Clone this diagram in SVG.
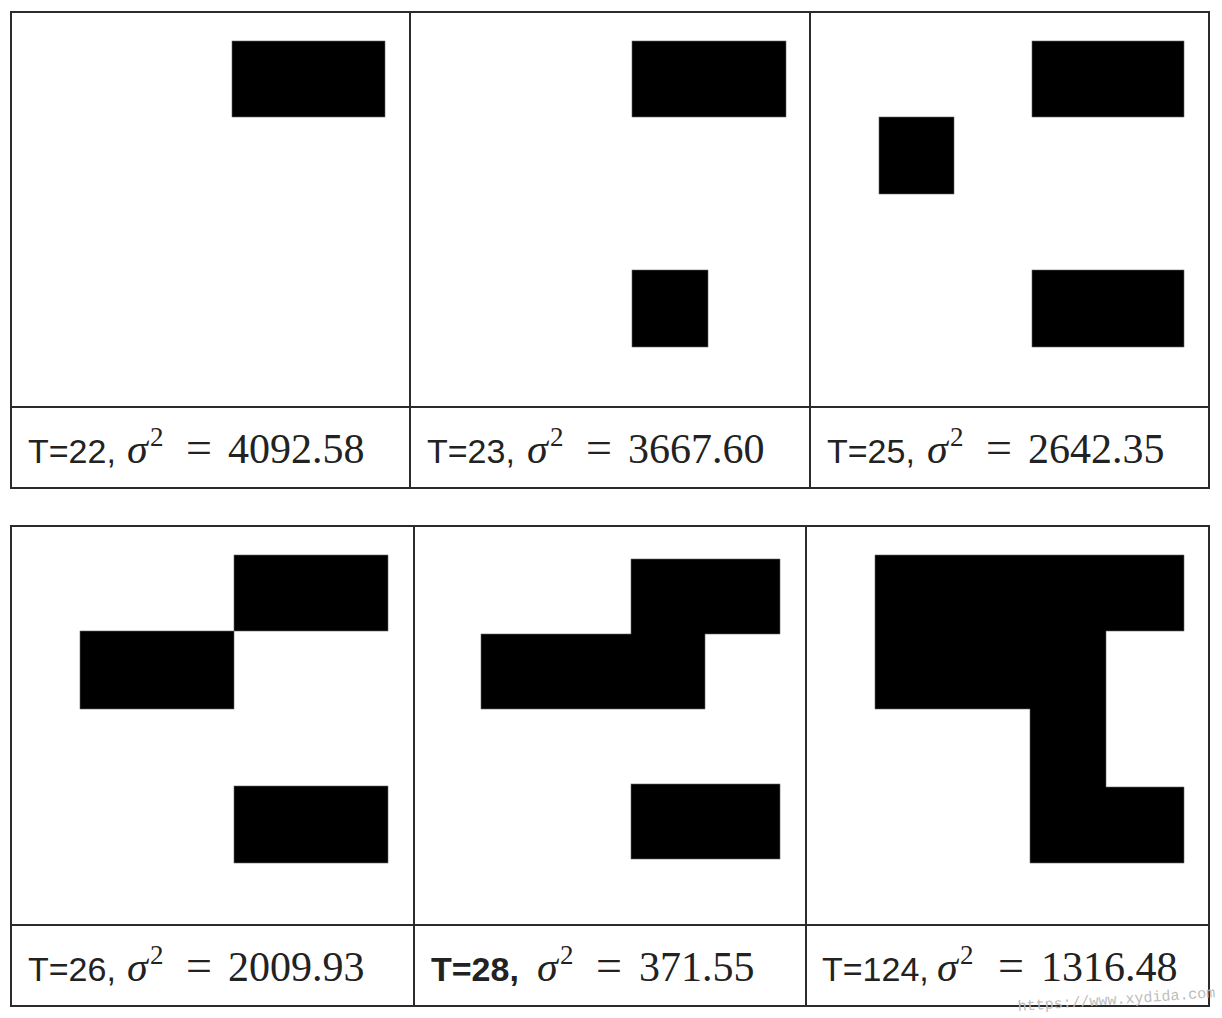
<svg xmlns="http://www.w3.org/2000/svg" width="1222" height="1018" viewBox="0 0 1222 1018">
<style>
.grid{fill:none;stroke:#2b2b2b;stroke-width:2}
.blk{fill:#000;stroke:#666;stroke-width:0.6}
.sans{font-family:"Liberation Sans","Helvetica",Arial,sans-serif;font-size:34px;fill:#222}
.bold{font-weight:bold}
.ser{font-family:"Liberation Serif","Times New Roman",serif;font-size:42px;fill:#222}
.eq{font-family:"Liberation Serif","Times New Roman",serif;font-size:46px;fill:#222}
.sig{font-family:"Liberation Serif","Times New Roman",serif;font-style:italic;font-size:42px;fill:#222}
.sup{font-family:"Liberation Serif","Times New Roman",serif;font-size:27px;fill:#222}
.wm{font-family:"Liberation Mono","DejaVu Sans Mono",monospace;font-size:15px;fill:#bdbdbd}
</style>
<rect width="1222" height="1018" fill="#fff"/>
<g id="table-top">
<rect class="grid" x="11" y="12" width="1198" height="476"/>
<line class="grid" x1="410" y1="12" x2="410" y2="488"/>
<line class="grid" x1="810" y1="12" x2="810" y2="488"/>
<line class="grid" x1="11" y1="407" x2="1209" y2="407"/>
</g>
<g id="table-bottom">
<rect class="grid" x="11" y="526" width="1198" height="480"/>
<line class="grid" x1="414" y1="526" x2="414" y2="1006"/>
<line class="grid" x1="806" y1="526" x2="806" y2="1006"/>
<line class="grid" x1="11" y1="925" x2="1209" y2="925"/>
</g>
<g id="panel-t22">
<rect class="blk" x="232" y="41" width="153" height="76"/>
<text class="sans" x="28" y="463">T=22,</text>
<text class="sig" x="127" y="463">σ</text>
<text class="sup" x="150" y="446">2</text>
<text class="eq" x="186" y="463">=</text>
<text class="ser" x="228" y="463">4092.58</text>
</g>
<g id="panel-t23">
<rect class="blk" x="632" y="41" width="154" height="76"/>
<rect class="blk" x="632" y="270" width="76" height="77"/>
<text class="sans" x="427" y="463">T=23,</text>
<text class="sig" x="527" y="463">σ</text>
<text class="sup" x="550" y="446">2</text>
<text class="eq" x="586" y="463">=</text>
<text class="ser" x="628" y="463">3667.60</text>
</g>
<g id="panel-t25">
<rect class="blk" x="1032" y="41" width="152" height="76"/>
<rect class="blk" x="879" y="117" width="75" height="77"/>
<rect class="blk" x="1032" y="270" width="152" height="77"/>
<text class="sans" x="827" y="463">T=25,</text>
<text class="sig" x="927" y="463">σ</text>
<text class="sup" x="950" y="446">2</text>
<text class="eq" x="986" y="463">=</text>
<text class="ser" x="1028" y="463">2642.35</text>
</g>
<g id="panel-t26">
<rect class="blk" x="234" y="555" width="154" height="76"/>
<rect class="blk" x="80" y="631" width="154" height="78"/>
<rect class="blk" x="234" y="786" width="154" height="77"/>
<text class="sans" x="28" y="981">T=26,</text>
<text class="sig" x="127" y="981">σ</text>
<text class="sup" x="150" y="964">2</text>
<text class="eq" x="186" y="981">=</text>
<text class="ser" x="228" y="981">2009.93</text>
</g>
<g id="panel-t28">
<polygon class="blk" points="631,559 780,559 780,634 705,634 705,709 481,709 481,634 631,634"/>
<rect class="blk" x="631" y="784" width="149" height="75"/>
<text class="sans bold" x="431" y="981">T=28,</text>
<text class="sig" x="537" y="981">σ</text>
<text class="sup" x="560" y="964">2</text>
<text class="eq" x="596" y="981">=</text>
<text class="ser" x="639" y="981">371.55</text>
</g>
<g id="panel-t124">
<polygon class="blk" points="875,555 1184,555 1184,631 1106,631 1106,787 1184,787 1184,863 1030,863 1030,709 875,709"/>
<text class="sans" x="822" y="981">T=124,</text>
<text class="sig" x="937" y="981">σ</text>
<text class="sup" x="960" y="964">2</text>
<text class="eq" x="998" y="981">=</text>
<text class="ser" x="1041" y="981">1316.48</text>
</g>
<g id="connectors"></g>
<text class="wm" x="1018" y="1011" transform="rotate(-4 1018 1011)">https://www.xydida.com</text>
</svg>
